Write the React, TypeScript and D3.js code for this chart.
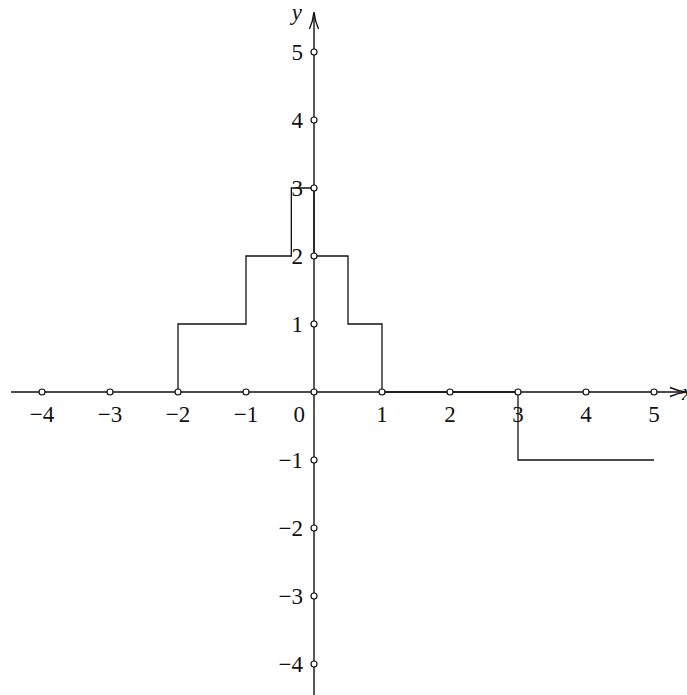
import * as d3 from 'd3';

const width = 687;
const height = 695;

// tick values on each axis
const xTicks = [-4, -3, -2, -1, 0, 1, 2, 3, 4, 5];
const yTicks = [-4, -3, -2, -1, 0, 1, 2, 3, 4, 5];
const xLabels = [-4, -3, -2, -1, 1, 2, 3, 4, 5];
const yLabels = [-4, -3, -2, -1, 1, 2, 3, 4, 5];

// step function: value holds from each break to the next
const stepX = [-2, -2, -1, -1 / 3, 0, 0.5, 1, 3, 5];
const stepY = [0, 1, 2, 3, 2, 1, 0, -1, -1];

const fmt = (v: number) => (v < 0 ? '\u2212' + Math.abs(v) : String(v));

const App = () => {
  const x = d3.scaleLinear().domain([-4, 5]).range([42, 654]);
  const y = d3.scaleLinear().domain([5, -4]).range([52, 664]);
  const x0 = x(0);
  const y0 = y(0);

  const pts: [number, number][] = stepX.map((v, i) => [v, stepY[i]]);
  const line = d3
    .line<[number, number]>()
    .x(d => x(d[0]))
    .y(d => y(d[1]))
    .curve(d3.curveStepAfter);

  const font = '"Liberation Serif", "DejaVu Serif", serif';
  const ink = '#111';
  const fs = 23;

  return (
    <svg
      width={width}
      height={height}
      style={{ position: 'absolute', left: 0, top: 0, display: 'block' }}
    >
      <rect width={width} height={height} fill="#fff" />
      {/* axes */}
      <line x1={11} x2={685} y1={y0} y2={y0} stroke={ink} strokeWidth={1.4} />
      <line x1={x0} x2={x0} y1={height} y2={14} stroke={ink} strokeWidth={1.4} />
      {/* arrow heads */}
      <path
        d={`M${670},${y0 - 4.5} Q${678},${y0 - 1} ${686},${y0} Q${678},${y0 + 1} ${670},${y0 + 4.5}`}
        fill="none"
        stroke={ink}
        strokeWidth={1.4}
      />
      <path
        d={`M${x0 - 4.5},${29} Q${x0 - 1},${21} ${x0},${12} Q${x0 + 1},${21} ${x0 + 4.5},${29}`}
        fill="none"
        stroke={ink}
        strokeWidth={1.4}
      />
      {/* step function */}
      <path d={line(pts) ?? ''} fill="none" stroke={ink} strokeWidth={1.3} />
      {/* tick circles */}
      {xTicks.map(t => (
        <circle key={'xc' + t} cx={x(t)} cy={y0} r={3} fill="#fff" stroke={ink} strokeWidth={1.2} />
      ))}
      {yTicks.filter(t => t !== 0).map(t => (
        <circle key={'yc' + t} cx={x0} cy={y(t)} r={3} fill="#fff" stroke={ink} strokeWidth={1.2} />
      ))}
      {/* labels */}
      {xLabels.map(t => (
        <text
          key={'xl' + t}
          x={x(t)}
          y={y0 + 30}
          textAnchor="middle"
          fontFamily={font}
          fontSize={fs}
          fill={ink}
        >
          {fmt(t)}
        </text>
      ))}
      {yLabels.map(t => (
        <text
          key={'yl' + t}
          x={x0 - 11}
          y={y(t) + 8}
          textAnchor="end"
          fontFamily={font}
          fontSize={fs}
          fill={ink}
        >
          {fmt(t)}
        </text>
      ))}
      <text x={x0 - 9} y={y0 + 30} textAnchor="end" fontFamily={font} fontSize={fs} fill={ink}>
        0
      </text>
      <text x={x0 - 12} y={20} textAnchor="end" fontFamily={font} fontStyle="italic" fontSize={fs} fill={ink}>
        y
      </text>
      <text x={682} y={y0 + 8} fontFamily={font} fontStyle="italic" fontSize={fs} fill={ink}>
        x
      </text>
    </svg>
  );
};

export default App;
